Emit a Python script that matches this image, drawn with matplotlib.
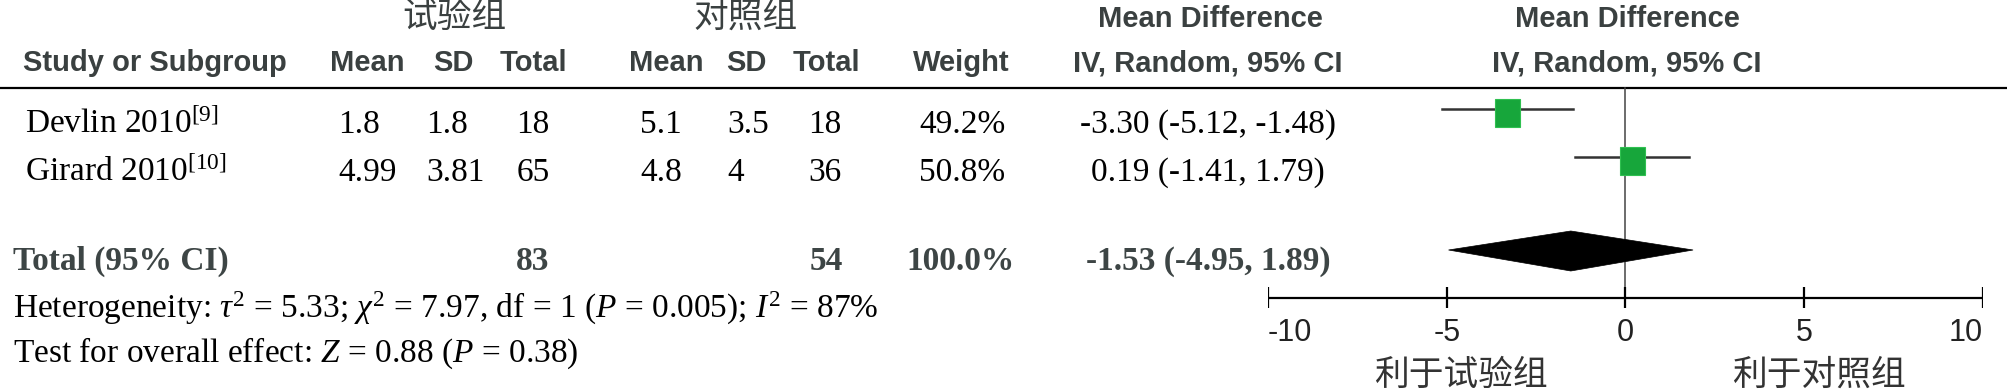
import matplotlib
matplotlib.use('Agg')
import matplotlib.pyplot as plt
from matplotlib.patches import Rectangle, Polygon

plt.rcParams['mathtext.fontset'] = 'custom'
plt.rcParams['mathtext.rm'] = 'Liberation Serif'
plt.rcParams['mathtext.it'] = 'Liberation Serif:italic'

# 数据
studies = ['Devlin 2010', 'Girard 2010']
refs = ['9', '10']
exp_mean = [1.8, 4.99]
exp_sd = [1.8, 3.81]
exp_n = [18, 65]
ctl_mean = [5.1, 4.8]
ctl_sd = [3.5, 4]
ctl_n = [18, 36]
weights = [49.2, 50.8]
md = [-3.30, 0.19]
md_lo = [-5.12, -1.41]
md_hi = [-1.48, 1.79]

total_exp = 83
total_ctl = 54
total_weight = 100.0
total_md = [-1.53, -4.95, 1.89]

ticks = [-10, -5, 0, 5, 10]
heterogeneity = r'Heterogeneity: $\tau^2$ = 5.33; $\chi^2$ = 7.97, df = 1 ($P$ = 0.005); $I^2$ = 87%'
overall = r'Test for overall effect: $Z$ = 0.88 ($P$ = 0.38)'

# 样式
HEAD = '#3a4040'
SANS = 'Liberation Sans'
SERIF = 'Liberation Serif'
CJK = ['Noto Sans CJK SC', 'DejaVu Sans']
FS = 24

fig = plt.figure(figsize=(20.08, 3.9), dpi=100)
ax = fig.add_axes([0, 0, 1, 1])
ax.set_xlim(0, 2008)
ax.set_ylim(390, 0)
ax.axis('off')

# 表头
ax.text(454, 17, '试验组', family=CJK, fontsize=25, color=HEAD, ha='center', va='center')
ax.text(746, 17, '对照组', family=CJK, fontsize=25, color=HEAD, ha='center', va='center')
ax.text(1210, 27, 'Mean Difference', family=SANS, weight='bold', fontsize=21, color=HEAD, ha='center')
ax.text(1627, 27, 'Mean Difference', family=SANS, weight='bold', fontsize=21, color=HEAD, ha='center')

cols = [(23, 'Study or Subgroup', 'left'), (367, 'Mean', 'center'), (453, 'SD', 'center'),
        (533, 'Total', 'center'), (666, 'Mean', 'center'), (746, 'SD', 'center'),
        (826, 'Total', 'center'), (961, 'Weight', 'center'), (1208, 'IV, Random, 95% CI', 'center'),
        (1627, 'IV, Random, 95% CI', 'center')]
for x, s, ha in cols:
    ax.text(x, 71, s, family=SANS, weight='bold', fontsize=21, color=HEAD, ha=ha)

ax.plot([0, 2008], [88, 88], color='black', lw=1.6, solid_capstyle='butt')

# 研究行
row_base = [133, 181]
for i in range(len(studies)):
    y = row_base[i]
    kw = dict(family=SERIF, fontsize=FS, color='black')
    ax.text(25, y, studies[i] + r'$^{[' + refs[i] + ']}$', **kw)
    ax.text(338, y, f'{exp_mean[i]:g}', **kw)
    ax.text(426, y, f'{exp_sd[i]:g}', **kw)
    ax.text(533, y, f'{exp_n[i]}', ha='center', **kw)
    ax.text(640, y, f'{ctl_mean[i]:g}', **kw)
    ax.text(727, y, f'{ctl_sd[i]:g}', **kw)
    ax.text(825, y, f'{ctl_n[i]}', ha='center', **kw)
    ax.text(919, y, f'{weights[i]:.1f}%', **kw)
    ax.text(1208, y, f'{md[i]:.2f} ({md_lo[i]:.2f}, {md_hi[i]:.2f})', ha='center', **kw)

# 合计行
kw = dict(family=SERIF, fontsize=FS, weight='bold', color='#3d4545')
ax.text(13, 270, 'Total (95% CI)', **kw)
ax.text(533, 270, f'{total_exp}', ha='center', **kw)
ax.text(826, 270, f'{total_ctl}', ha='center', **kw)
ax.text(906, 270, f'{total_weight:.1f}%', **kw)
ax.text(1208, 270, f'{total_md[0]:.2f} ({total_md[1]:.2f}, {total_md[2]:.2f})', ha='center', **kw)

ax.text(13, 318, heterogeneity, family=SERIF, fontsize=FS, color='black')
ax.text(13, 362, overall, family=SERIF, fontsize=FS, color='black')

# 森林图
ax2 = fig.add_axes([1268 / 2008, 0, 715 / 2008, 1])
ax2.set_xlim(-10, 10)
ax2.set_ylim(390, 0)
ax2.axis('off')

line_y = [109, 157]
for i in range(len(studies)):
    ax2.plot([md_lo[i], md_hi[i]], [line_y[i], line_y[i]], color='#333333', lw=1.8)
    w = 0.70 * (weights[i] / 50) ** 0.5
    h = 28 * (weights[i] / 50) ** 0.5
    ax2.add_patch(Rectangle((md[i] - w / 2, line_y[i] - 10), w, h,
                            facecolor='#17a63b', edgecolor='#2fc050', lw=0.8, zorder=3))

ax2.add_patch(Polygon([(total_md[1], 250), (total_md[0], 231), (total_md[2], 250), (total_md[0], 271)],
                      closed=True, facecolor='black', edgecolor='black', lw=0.5, zorder=3))

ax2.plot([0, 0], [88, 298], color='#444444', lw=1.1, zorder=2)
ax2.plot([ticks[0], ticks[-1]], [298, 298], color='black', lw=1.6, solid_capstyle='butt')
ax2.vlines(ticks, 287, 308, color='black', lw=1.6)
for t in ticks:
    ha = 'left' if t == ticks[0] else ('right' if t == ticks[-1] else 'center')
    ax2.text(t, 333, f'{t}', family=SANS, fontsize=22, color='#222222', ha=ha, va='center')

ax2.text(-4.6, 375, '利于试验组', family=CJK, fontsize=25, color='#333333', ha='center', va='center')
ax2.text(5.4, 375, '利于对照组', family=CJK, fontsize=25, color='#333333', ha='center', va='center')

fig.savefig('out.png', dpi=100)
